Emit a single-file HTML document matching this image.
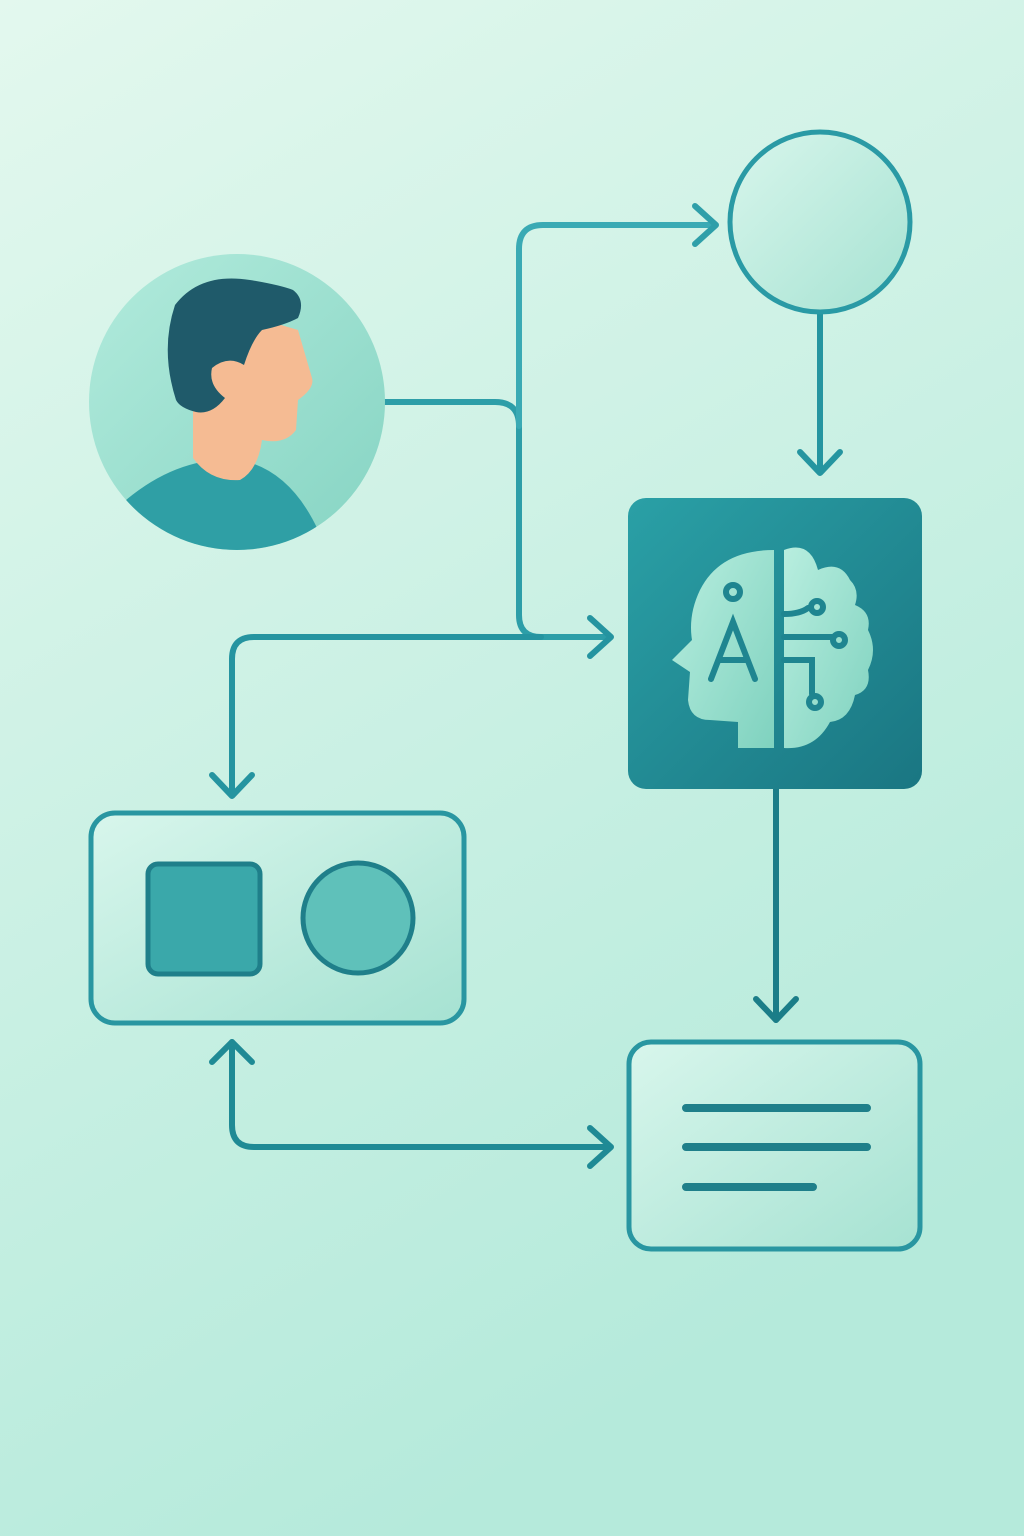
<!DOCTYPE html>
<html><head><meta charset="utf-8"><style>html,body{margin:0;padding:0}body{width:1024px;height:1536px;overflow:hidden;background:#b5eadb}svg{display:block}</style></head><body>
<svg width="1024" height="1536" viewBox="0 0 1024 1536" xmlns="http://www.w3.org/2000/svg">
<defs>
<linearGradient id="bg" x1="0" y1="0" x2="0.4" y2="1"><stop offset="0" stop-color="#e3f8ee"/><stop offset="1" stop-color="#b5eadb"/></linearGradient>
<linearGradient id="ai" x1="0" y1="0" x2="1" y2="1"><stop offset="0" stop-color="#2aa0a6"/><stop offset="1" stop-color="#1a7682"/></linearGradient>
<linearGradient id="lt" x1="0" y1="0" x2="1" y2="1"><stop offset="0" stop-color="#d8f6ec"/><stop offset="1" stop-color="#a6e2d2"/></linearGradient>
<linearGradient id="pc" x1="0" y1="0" x2="1" y2="1"><stop offset="0" stop-color="#b2ebdc"/><stop offset="1" stop-color="#86d4c3"/></linearGradient>
<linearGradient id="br" x1="0" y1="0" x2="1" y2="1"><stop offset="0" stop-color="#b8eedf"/><stop offset="1" stop-color="#7fd2bf"/></linearGradient>
<clipPath id="cc"><circle cx="237" cy="402" r="148"/></clipPath>
</defs>
<rect width="1024" height="1536" fill="url(#bg)"/>
<g fill="none" stroke-linecap="round" stroke-linejoin="round" stroke-width="6">
<path d="M385 402 H495 Q519 402 519 426 V615 Q519 637 541 637 H610" stroke="#2d9ea8"/>
<path d="M519 426 V249 Q519 225 543 225 H714" stroke="#3aaab4"/>
<path d="M695 206 L716 225 L695 244" stroke="#2f9fa9"/>
<path d="M590 618 L611 637 L590 656" stroke="#2594a0"/>
<path d="M541 637 H254 Q232 637 232 659 V795" stroke="#2594a0"/>
<path d="M212 775 L232 796 L252 775" stroke="#2594a0"/>
<path d="M820 312 V472" stroke="#2595a0"/>
<path d="M800 452 L820 473 L840 452" stroke="#2595a0"/>
<path d="M776 789 V1020" stroke="#1b7d88"/>
<path d="M756 999 L776 1020 L796 999" stroke="#1b7d88"/>
<path d="M232 1042 V1125 Q232 1147 254 1147 H610" stroke="#1f8a95"/>
<path d="M212 1062 L232 1042 L252 1062" stroke="#1f8a95"/>
<path d="M590 1128 L611 1147 L590 1166" stroke="#1f8a95"/>
</g>
<circle cx="820" cy="222" r="90" fill="url(#lt)" stroke="#2a9aa5" stroke-width="5"/>
<circle cx="237" cy="402" r="148" fill="url(#pc)"/>
<g clip-path="url(#cc)">
<path d="M126 500 Q180 455 240 460 Q290 470 318 530 L320 560 L120 560 Z" fill="#2f9fa5"/>
<path d="M193 400 L193 458 Q210 482 240 480 Q258 470 262 440 Q285 445 296 430 L298 400 Q315 388 312 378 L298 330 L230 310 Z" fill="#f5bb93"/>
<path d="M176 400 Q160 350 175 305 Q200 272 250 280 Q280 285 293 290 Q306 300 298 318 Q285 325 262 330 Q252 340 244 365 Q228 355 212 368 Q208 385 225 398 Q212 415 196 412 Q180 408 176 400 Z" fill="#1f5a6a"/>
</g>
<rect x="628" y="498" width="294" height="291" rx="18" fill="url(#ai)"/>
<path d="M774 550 Q720 550 700 590 Q688 615 692 640 L672 660 L690 672 L688 700 Q690 720 710 720 L738 722 L738 748 L774 748 Z" fill="url(#br)"/>
<path d="M784 550 Q810 540 818 570 Q840 560 850 580 Q860 590 855 605 Q872 612 868 630 Q878 650 868 670 Q872 690 855 695 Q850 720 830 722 Q815 750 784 748 Z" fill="url(#br)"/>
<g fill="none" stroke="#1f8590" stroke-width="6" stroke-linecap="round">
<circle cx="733" cy="592" r="7"/>
<path d="M711 679 L733 622 L755 679 M719 660 H747"/>
<path d="M784 614 Q800 614 808 608"/><circle cx="817" cy="607" r="6"/>
<path d="M784 637 H832"/><circle cx="839" cy="640" r="6"/>
<path d="M784 660 H812 V694"/><circle cx="815" cy="702" r="6"/>
</g>
<rect x="91" y="813" width="373" height="210" rx="24" fill="url(#lt)" stroke="#2996a1" stroke-width="5"/>
<rect x="148" y="864" width="112" height="110" rx="10" fill="#3aa8aa" stroke="#1f7f8a" stroke-width="5"/>
<circle cx="358" cy="918" r="55" fill="#5fc1ba" stroke="#1f7f8a" stroke-width="5"/>
<rect x="629" y="1042" width="291" height="207" rx="22" fill="url(#lt)" stroke="#2996a1" stroke-width="5"/>
<g stroke="#1f7f8a" stroke-width="8" stroke-linecap="round">
<path d="M686 1108 H867 M686 1147 H867 M686 1187 H813"/>
</g>
</svg>
</body></html>
